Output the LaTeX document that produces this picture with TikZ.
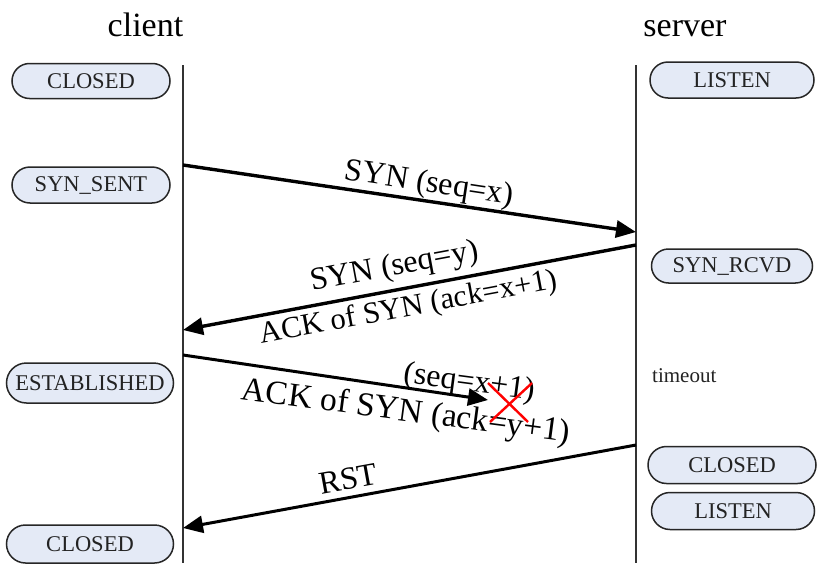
\documentclass[tikz,border=0pt]{standalone}
\usepackage{fontspec}
\setmainfont{Liberation Serif}
\usetikzlibrary{arrows.meta}
\definecolor{boxfill}{RGB}{228,234,246}
\definecolor{boxtext}{RGB}{35,35,35}
\begin{document}
\begin{tikzpicture}[x=1pt,y=-1pt,
  state/.style={draw=black!85, line width=1.5pt, fill=boxfill, rectangle,
    text=boxtext, font=\fontsize{22.5}{24}\selectfont, inner sep=0pt},
  lifeline/.style={draw=black!80, line width=1.6pt},
  msg/.style={draw=black, line width=3.4pt, -{Triangle[length=20pt,width=17pt]}},
  lbl/.style={font=\fontsize{32}{34}\selectfont, anchor=base, inner sep=0pt},
  title/.style={font=\fontsize{34}{36}\selectfont, anchor=base, inner sep=0pt}]
\useasboundingbox[fill=white] (0,0) rectangle (831,581);

% titles
\node[title] (tc) at (145.5,36) {client};
\node[title] (ts) at (685,36) {server};

% lifelines
\coordinate (ctop) at (183,65);
\coordinate (cbot) at (183,563);
\coordinate (stop) at (636,65);
\coordinate (sbot) at (636,563);
\draw[lifeline] (ctop) -- (cbot);
\draw[lifeline] (stop) -- (sbot);

% states
\node[state, minimum width=158pt, minimum height=35pt, rounded corners=17.5pt] (cl1) at (91,81) {CLOSED};
\node[state, minimum width=158pt, minimum height=36pt, rounded corners=18pt] (ss) at (91,185) {SYN\_SENT};
\node[state, minimum width=167pt, minimum height=40pt, rounded corners=20pt] (est) at (90,383) {ESTABLISHED};
\node[state, minimum width=167pt, minimum height=38pt, rounded corners=19pt] (cl2) at (90,544) {CLOSED};
\node[state, minimum width=164pt, minimum height=36pt, rounded corners=18pt] (ls1) at (732,80) {LISTEN};
\node[state, minimum width=161pt, minimum height=34pt, rounded corners=17pt] (sr) at (732,266) {SYN\_RCVD};
\node[state, minimum width=168pt, minimum height=37pt, rounded corners=18.5pt] (cl3) at (732,465) {CLOSED};
\node[state, minimum width=163pt, minimum height=37pt, rounded corners=18.5pt] (ls2) at (733,511) {LISTEN};

\node[font=\fontsize{21}{23}\selectfont, anchor=base west, inner sep=0pt, text=boxtext] (to) at (652,382) {timeout};

% message endpoints
\coordinate (a1) at (183,165);
\coordinate (a2) at (636,232);
\coordinate (b1) at (636,245);
\coordinate (b2) at (183,330);
\coordinate (c1) at (183,355);
\coordinate (c2) at (488,400);
\coordinate (d1) at (636,445);
\coordinate (d2) at (183,528);

\draw[msg] (a1) -- (a2);
\draw[msg] (b1) -- (b2);
\draw[msg, line width=3pt] (c1) -- (c2);
\draw[msg, line width=3pt] (d1) -- (d2);

% labels
\node[lbl, rotate=-8.6] (l1) at (428,192) {SYN (seq=x)};
\node[lbl, rotate=10.6] (l2) at (396,275) {SYN (seq=y)};
\node[lbl, rotate=10.6, font=\fontsize{30.5}{32}\selectfont] (l3) at (410,316) {ACK of SYN (ack=x+1)};
\node[lbl, rotate=-7.5] (l4) at (468,391) {(seq=x+1)};
\node[lbl, rotate=-7.5, font=\fontsize{33.5}{35}\selectfont] (l5) at (405,421) {ACK of SYN (ack=y+1)};
\node[lbl, rotate=10.3] (l6) at (350,489) {RST};

% red cross
\coordinate (x1) at (490,422);
\coordinate (x2) at (532,383);
\coordinate (x3) at (488,383);
\coordinate (x4) at (528,422);
\draw[red, line width=2.4pt] (x1) -- (x2);
\draw[red, line width=2.4pt] (x3) -- (x4);
\end{tikzpicture}
\end{document}
